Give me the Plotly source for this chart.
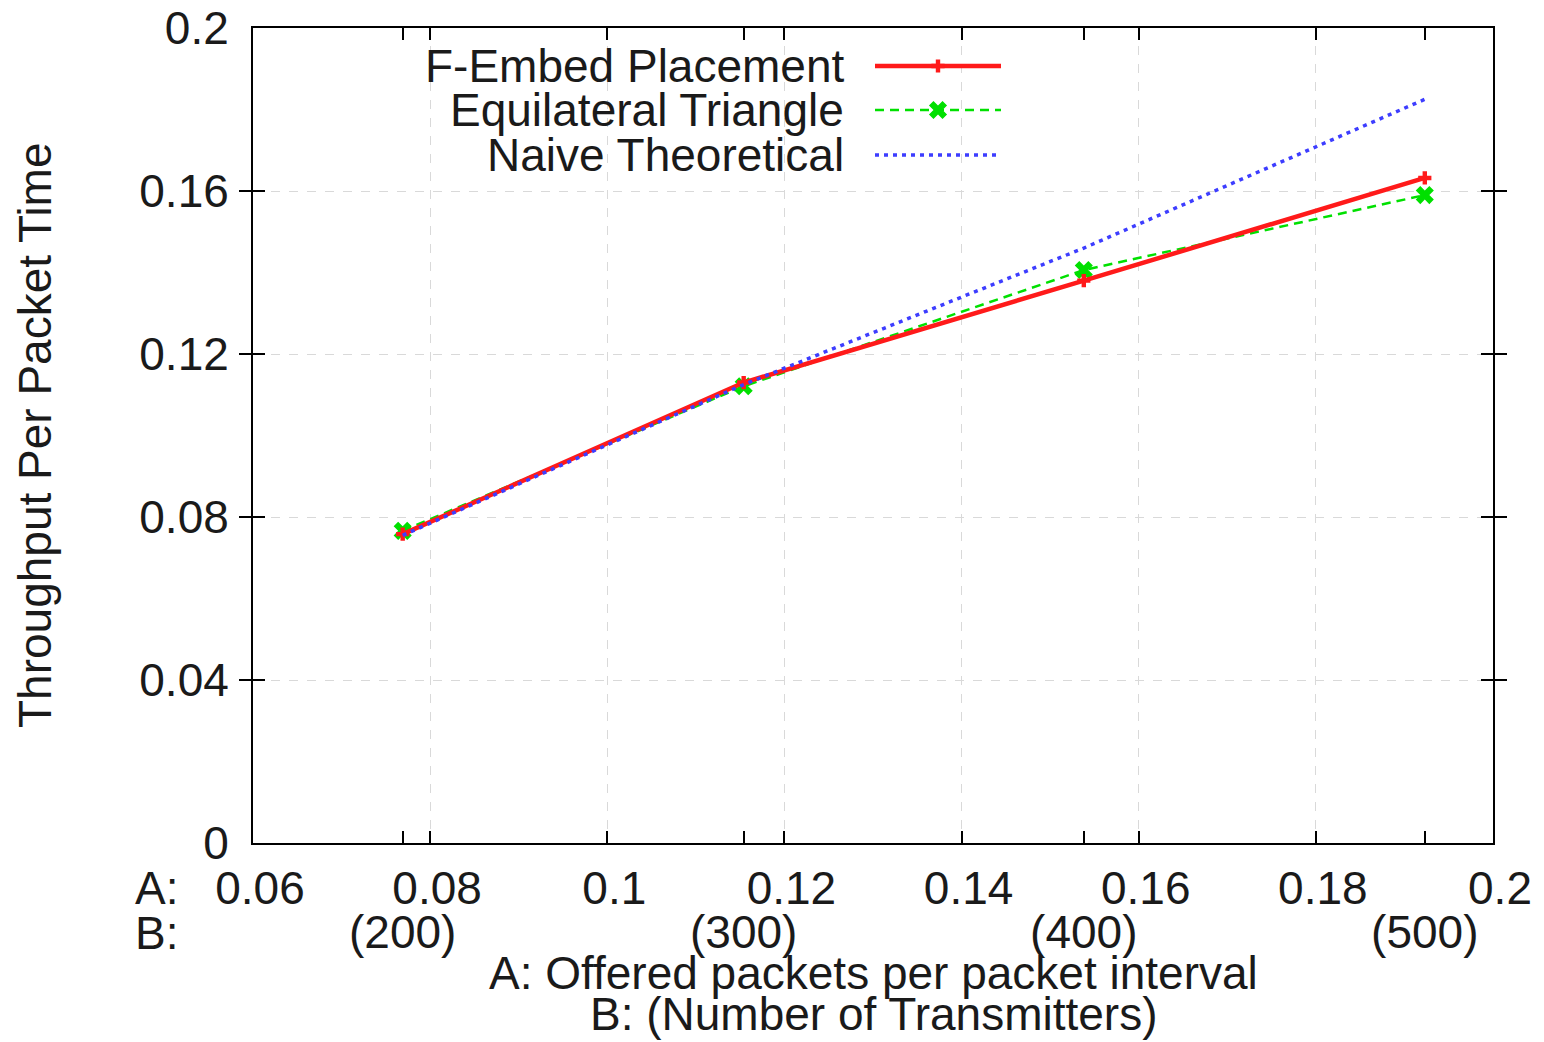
import plotly.graph_objects as go

# ---- data ----
transmitters = [200, 300, 400, 500]
offered = [0.0769, 0.1154, 0.1538, 0.1923]
f_embed = [0.0758, 0.1130, 0.1380, 0.1632]
equilateral = [0.0766, 0.1121, 0.1406, 0.1590]
naive = [0.0755, 0.1125, 0.1460, 0.1825]

x_ticks = [0.06, 0.08, 0.10, 0.12, 0.14, 0.16, 0.18, 0.20]
x_tick_labels = ["0.06", "0.08", "0.1", "0.12", "0.14", "0.16", "0.18", "0.2"]
y_ticks = [0, 0.04, 0.08, 0.12, 0.16, 0.20]
y_tick_labels = ["0", "0.04", "0.08", "0.12", "0.16", "0.2"]
b_labels = ["(%d)" % n for n in transmitters]

series_names = ["F-Embed Placement", "Equilateral Triangle", "Naive Theoretical"]

FONT = "Liberation Sans, Arial, sans-serif"
FS = 46
TXT = "#1a1a1a"
RED = "#ff1a1a"
GREEN = "#00e000"
BLUE = "#3d3dff"

W, H = 1544, 1042
L, R, T, B = 253, 51, 28, 199
PW, PH = W - L - R, H - T - B


def px(xp):
    return (xp - L) / PW


def py(yp):
    return (H - B - yp) / PH


RED_LINE = dict(color=RED, width=4.5)
GREEN_LINE = dict(color=GREEN, width=2.5, dash="9px,6px")
BLUE_LINE = dict(color=BLUE, width=3.5, dash="4px,5px")
RED_MARK = dict(symbol="cross", size=11, color=RED)
GREEN_MARK = dict(symbol="x", size=16, color=GREEN)

fig = go.Figure()

# data traces (naive on the overlay x2 axis, same range, so that axis is drawn)
fig.add_trace(go.Scatter(x=offered, y=naive, mode="lines", line=BLUE_LINE,
                         xaxis="x2", yaxis="y", showlegend=False))
fig.add_trace(go.Scatter(x=offered, y=equilateral, mode="lines+markers",
                         line=GREEN_LINE, marker=GREEN_MARK, showlegend=False))
fig.add_trace(go.Scatter(x=offered, y=f_embed, mode="lines+markers",
                         line=RED_LINE, marker=RED_MARK, showlegend=False))

# custom gnuplot-style key (samples drawn on a hidden 0..1 overlay axis)
key_rows = [py(66), py(110), py(155)]
key_x0, key_x1, key_xm = px(875), px(1001), px(938)
styles = [(RED_LINE, RED_MARK), (GREEN_LINE, GREEN_MARK), (BLUE_LINE, None)]
for name, yk, (ln, mk) in zip(series_names, key_rows, styles):
    fig.add_trace(go.Scatter(x=[key_x0, key_x1], y=[yk, yk], mode="lines",
                             line=ln, xaxis="x3", yaxis="y3",
                             showlegend=False, hoverinfo="skip"))
    if mk is not None:
        fig.add_trace(go.Scatter(x=[key_xm], y=[yk], mode="markers",
                                 marker=mk, xaxis="x3", yaxis="y3",
                                 showlegend=False, hoverinfo="skip"))
    fig.add_annotation(x=px(846), y=yk, xref="paper", yref="paper",
                       text=name, showarrow=False, xanchor="right", yanchor="middle",
                       font=dict(family=FONT, size=FS, color=TXT))

common_axis = dict(showline=True, linecolor="black", linewidth=2, mirror="allticks",
                   ticks="inside", ticklen=12, tickcolor="black", tickwidth=1.5,
                   zeroline=False, automargin=False,
                   tickfont=dict(family=FONT, size=FS, color=TXT))

fig.update_layout(
    width=W, height=H,
    margin=dict(l=L, r=R, t=T, b=B),
    paper_bgcolor="white", plot_bgcolor="white",
    showlegend=False,
    xaxis=dict(range=[0.06, 0.2], tickvals=x_ticks, ticktext=x_tick_labels,
               showgrid=True, gridcolor="#d9d9d9", griddash="dash", gridwidth=1,
               ticklabelstandoff=4, ticklabelshift=7, **common_axis),
    xaxis2=dict(range=[0.06, 0.2], overlaying="x", side="bottom", anchor="y",
                tickvals=offered, ticktext=b_labels, showgrid=False,
                ticklabelstandoff=48, **common_axis),
    yaxis=dict(range=[0, 0.2], tickvals=y_ticks, ticktext=y_tick_labels,
               showgrid=True, gridcolor="#d9d9d9", griddash="dash", gridwidth=1,
               ticklabelstandoff=13, **common_axis),
    xaxis3=dict(range=[0, 1], overlaying="x", visible=False, anchor="y3"),
    yaxis3=dict(range=[0, 1], overlaying="y", visible=False, anchor="x3"),
)

# row prefixes and axis titles
fig.add_annotation(x=px(133), y=py(888), xref="paper", yref="paper", text="A:",
                   showarrow=False, xanchor="left", yanchor="middle",
                   font=dict(family=FONT, size=FS, color=TXT))
fig.add_annotation(x=px(133), y=py(933), xref="paper", yref="paper", text="B:",
                   showarrow=False, xanchor="left", yanchor="middle",
                   font=dict(family=FONT, size=FS, color=TXT))
fig.add_annotation(x=0.5, y=py(973), xref="paper", yref="paper",
                   text="A: Offered packets per packet interval",
                   showarrow=False, xanchor="center", yanchor="middle",
                   font=dict(family=FONT, size=FS, color=TXT))
fig.add_annotation(x=0.5, y=py(1014), xref="paper", yref="paper",
                   text="B: (Number of Transmitters)",
                   showarrow=False, xanchor="center", yanchor="middle",
                   font=dict(family=FONT, size=FS, color=TXT))
fig.add_annotation(x=px(35), y=py(435), xref="paper", yref="paper",
                   text="Throughput Per Packet Time", textangle=-90,
                   showarrow=False, xanchor="center", yanchor="middle",
                   font=dict(family=FONT, size=FS, color=TXT))

fig.write_html("out.html", config={"displayModeBar": False},
               post_script="document.body.style.margin='0';document.body.style.padding='0';")
